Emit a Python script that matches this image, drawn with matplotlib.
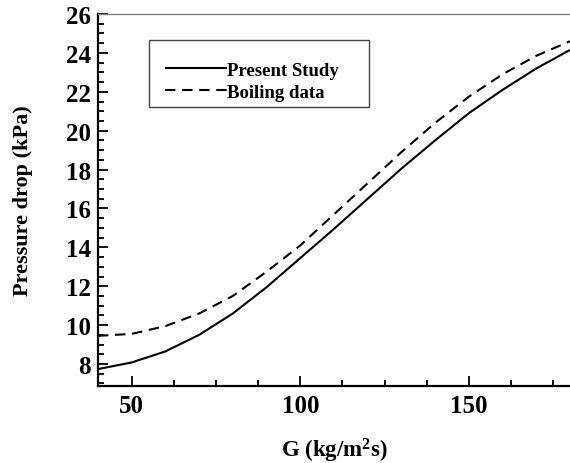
import matplotlib
matplotlib.use("Agg")
import matplotlib.pyplot as plt
from matplotlib.ticker import MultipleLocator
from matplotlib.patches import Rectangle

plt.rcParams['font.family'] = ['Liberation Serif', 'DejaVu Serif']
plt.rcParams['font.weight'] = 'bold'
plt.rcParams['mathtext.fontset'] = 'custom'
plt.rcParams['mathtext.rm'] = 'Liberation Serif:bold'
plt.rcParams['mathtext.bf'] = 'Liberation Serif:bold'
plt.rcParams['mathtext.it'] = 'Liberation Serif:bold'

G = [40, 50, 60, 70, 80, 90, 100, 110, 120, 130, 140, 150, 160, 170, 180]
present_study = [7.74, 8.08, 8.65, 9.5, 10.6, 11.95, 13.45, 14.95, 16.5, 18.05, 19.5, 20.9, 22.1, 23.2, 24.15]
boiling_data = [9.45, 9.55, 9.95, 10.6, 11.5, 12.75, 14.1, 15.7, 17.3, 18.9, 20.4, 21.75, 22.9, 23.85, 24.6]
y_ticks = [8, 10, 12, 14, 16, 18, 20, 22, 24, 26]
x_ticks = [50, 100, 150]

fig = plt.figure(figsize=(5.7, 4.64), dpi=100)
ax = fig.add_axes([98/570, 1-387/464, 1-98/570, (387-15)/464])

l1, = ax.plot(G, present_study, color='black', lw=1.5, solid_capstyle='butt')
l2, = ax.plot(G, boiling_data, color='black', lw=1.5, dashes=(5, 3.2))

ax.set_xlim(40, 180)
ax.set_ylim(6.87, 26)
ax.set_xticks(x_ticks)
ax.set_yticks(y_ticks)
ax.xaxis.set_minor_locator(MultipleLocator(12.5))
ax.yaxis.set_minor_locator(MultipleLocator(0.5))
ax.tick_params(which='both', direction='in', top=False, right=False, width=1.3, colors='black')
ax.tick_params(which='major', length=7, labelsize=18)
ax.tick_params(axis='x', which='major', pad=6)
ax.tick_params(axis='y', which='major', pad=5)
ax.tick_params(which='minor', length=4)
for lab in ax.get_xticklabels() + ax.get_yticklabels():
    lab.set_fontweight('bold')

ax.spines['left'].set_linewidth(1.6)
ax.spines['bottom'].set_linewidth(1.6)
ax.spines['right'].set_visible(False)
ax.spines['top'].set_color('#808080')
ax.spines['top'].set_linewidth(1.0)

ax.set_xlabel(r'G (kg/m$^{2}$s)', fontsize=16.5, fontweight='bold', labelpad=13)
ax.set_ylabel('Pressure drop (kPa)', fontsize=16, fontweight='bold', labelpad=24)

# legend box
fig.patches.append(Rectangle((149/570, 1-108/464), (369-149)/570, (108-41)/464,
                             transform=fig.transFigure, fill=False,
                             edgecolor='#444444', lw=1.0))
leg = fig.legend([l1, l2], ['Present Study', 'Boiling data'], loc='upper left',
                 bbox_to_anchor=(156/570, 1-53/464), frameon=False,
                 prop={'family': 'Liberation Serif', 'weight': 'bold', 'size': 13.5},
                 handlelength=3.3, handletextpad=0.0, labelspacing=0.28,
                 borderpad=0.0)

fig.savefig('out.png', dpi=100)
